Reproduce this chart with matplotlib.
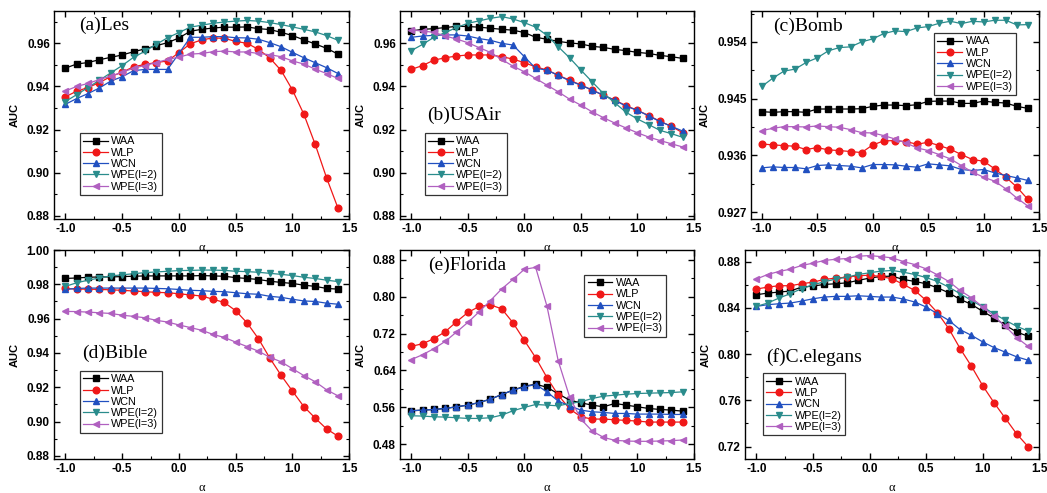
import numpy as np
import matplotlib
matplotlib.use("Agg")
import matplotlib.pyplot as plt
from matplotlib.ticker import MultipleLocator, AutoMinorLocator

alpha = np.round(np.arange(-1.0, 1.45, 0.1), 1)
names = ["WAA", "WLP", "WCN", "WPE(l=2)", "WPE(l=3)"]
colors = ["#000000", "#f01818", "#2150c0", "#2a8c8c", "#b060c0"]
markers = ["s", "o", "^", "v", "<"]

# (a) Les
les_waa = [0.9485, 0.9504, 0.9511, 0.9524, 0.9535, 0.9546, 0.9561, 0.9574, 0.9589, 0.9603, 0.9625, 0.9656, 0.9665,
           0.9671, 0.9675, 0.9675, 0.9676, 0.9668, 0.9664, 0.9651, 0.9636, 0.9616, 0.9597, 0.9577, 0.9550]
les_wlp = [0.9352, 0.9378, 0.9395, 0.9418, 0.9446, 0.9466, 0.9491, 0.9502, 0.9511, 0.9518, 0.9557, 0.9598, 0.9616,
           0.9625, 0.9623, 0.9609, 0.9600, 0.9572, 0.9532, 0.9474, 0.9383, 0.9271, 0.9131, 0.8976, 0.8836]
les_wcn = [0.9317, 0.9344, 0.9367, 0.9393, 0.9425, 0.9445, 0.9473, 0.9479, 0.9479, 0.9479, 0.9553, 0.9628, 0.9628,
           0.9631, 0.9631, 0.9626, 0.9625, 0.9619, 0.9603, 0.9584, 0.9558, 0.9533, 0.9510, 0.9487, 0.9460]
les_wpe2 = [0.9330, 0.9362, 0.9395, 0.9429, 0.9463, 0.9497, 0.9535, 0.9563, 0.9595, 0.9626, 0.9650, 0.9675, 0.9684,
            0.9693, 0.9699, 0.9703, 0.9706, 0.9703, 0.9696, 0.9687, 0.9676, 0.9665, 0.9653, 0.9636, 0.9614]
les_wpe3 = [0.9379, 0.9400, 0.9414, 0.9432, 0.9448, 0.9465, 0.9485, 0.9497, 0.9511, 0.9525, 0.9536, 0.9550, 0.9553,
            0.9561, 0.9564, 0.9560, 0.9560, 0.9553, 0.9547, 0.9538, 0.9518, 0.9504, 0.9480, 0.9460, 0.9437]

# (b) USAir
usa_waa = [0.9657, 0.9665, 0.9668, 0.9673, 0.9679, 0.9678, 0.9675, 0.9670, 0.9665, 0.9661, 0.9650, 0.9628, 0.9619,
           0.9609, 0.9602, 0.9597, 0.9586, 0.9581, 0.9572, 0.9566, 0.9558, 0.9553, 0.9544, 0.9538, 0.9530]
usa_wlp = [0.9479, 0.9497, 0.9522, 0.9533, 0.9541, 0.9546, 0.9546, 0.9546, 0.9538, 0.9527, 0.9510, 0.9491, 0.9476,
           0.9452, 0.9429, 0.9407, 0.9383, 0.9359, 0.9336, 0.9311, 0.9289, 0.9265, 0.9238, 0.9215, 0.9185]
usa_wcn = [0.9628, 0.9634, 0.9637, 0.9639, 0.9639, 0.9634, 0.9622, 0.9614, 0.9600, 0.9592, 0.9538, 0.9484, 0.9476,
           0.9451, 0.9426, 0.9406, 0.9383, 0.9359, 0.9336, 0.9308, 0.9289, 0.9263, 0.9237, 0.9215, 0.9193]
usa_wpe2 = [0.9566, 0.9595, 0.9628, 0.9650, 0.9673, 0.9693, 0.9704, 0.9716, 0.9724, 0.9713, 0.9696, 0.9675, 0.9637,
            0.9584, 0.9533, 0.9476, 0.9421, 0.9367, 0.9324, 0.9280, 0.9249, 0.9223, 0.9196, 0.9181, 0.9164]
usa_wpe3 = [0.9662, 0.9657, 0.9651, 0.9634, 0.9620, 0.9603, 0.9580, 0.9558, 0.9525, 0.9494, 0.9468, 0.9437, 0.9406,
            0.9375, 0.9341, 0.9313, 0.9282, 0.9255, 0.9230, 0.9207, 0.9185, 0.9165, 0.9149, 0.9134, 0.9119]

# (c) Bomb
bomb_waa = [0.94293, 0.94282, 0.94293, 0.94293, 0.94282, 0.94335, 0.94335, 0.94335, 0.94335, 0.94340, 0.94377, 0.94398,
            0.94398, 0.94388, 0.94403, 0.94456, 0.94461, 0.94461, 0.94424, 0.94424, 0.94461, 0.94440, 0.94430, 0.94377,
            0.94345]
bomb_wlp = [0.93781, 0.93765, 0.93755, 0.93744, 0.93692, 0.93723, 0.93686, 0.93676, 0.93660, 0.93644, 0.93765, 0.93829,
            0.93834, 0.93818, 0.93776, 0.93808, 0.93755, 0.93697, 0.93612, 0.93533, 0.93507, 0.93386, 0.93254, 0.93096,
            0.92900]
bomb_wcn = [0.93401, 0.93417, 0.93407, 0.93407, 0.93386, 0.93438, 0.93449, 0.93438, 0.93428, 0.93401, 0.93454, 0.93454,
            0.93449, 0.93428, 0.93412, 0.93465, 0.93449, 0.93433, 0.93375, 0.93359, 0.93375, 0.93322, 0.93280, 0.93243,
            0.93201]
bomb_wpe2 = [0.94693, 0.94825, 0.94936, 0.94968, 0.95073, 0.95147, 0.95258, 0.95310, 0.95321, 0.95400, 0.95447, 0.95532,
             0.95574, 0.95563, 0.95621, 0.95643, 0.95695, 0.95727, 0.95690, 0.95727, 0.95716, 0.95743, 0.95743, 0.95669,
             0.95674]
bomb_wpe3 = [0.93992, 0.94029, 0.94055, 0.94055, 0.94050, 0.94066, 0.94055, 0.94045, 0.94008, 0.93960, 0.93955, 0.93913,
             0.93860, 0.93797, 0.93718, 0.93676, 0.93612, 0.93544, 0.93438, 0.93333, 0.93254, 0.93190, 0.93069, 0.92922,
             0.92795]

# (d) Bible
bib_waa = [0.9834, 0.9837, 0.9841, 0.9843, 0.9843, 0.9845, 0.9847, 0.9849, 0.9849, 0.9849, 0.9849, 0.9849, 0.9851,
           0.9849, 0.9847, 0.9839, 0.9834, 0.9828, 0.9818, 0.9811, 0.9805, 0.9795, 0.9788, 0.9776, 0.9772]
bib_wlp = [0.9776, 0.9772, 0.9772, 0.9770, 0.9768, 0.9765, 0.9761, 0.9757, 0.9753, 0.9751, 0.9745, 0.9738, 0.9732,
           0.9713, 0.9694, 0.9646, 0.9575, 0.9483, 0.9370, 0.9269, 0.9177, 0.9087, 0.9020, 0.8957, 0.8915]
bib_wcn = [0.9770, 0.9776, 0.9778, 0.9778, 0.9778, 0.9778, 0.9778, 0.9778, 0.9776, 0.9774, 0.9770, 0.9765, 0.9763,
           0.9759, 0.9757, 0.9751, 0.9745, 0.9742, 0.9730, 0.9724, 0.9713, 0.9703, 0.9700, 0.9690, 0.9684]
bib_wpe2 = [0.9788, 0.9809, 0.9824, 0.9837, 0.9849, 0.9855, 0.9862, 0.9868, 0.9872, 0.9876, 0.9880, 0.9881, 0.9883,
            0.9883, 0.9881, 0.9876, 0.9874, 0.9870, 0.9864, 0.9858, 0.9851, 0.9841, 0.9834, 0.9824, 0.9816]
bib_wpe3 = [0.9642, 0.9641, 0.9638, 0.9634, 0.9630, 0.9620, 0.9613, 0.9605, 0.9590, 0.9580, 0.9563, 0.9548, 0.9532,
            0.9508, 0.9490, 0.9463, 0.9437, 0.9410, 0.9375, 0.9348, 0.9308, 0.9268, 0.9232, 0.9185, 0.9150]

# (e) Florida
flo_waa = [0.5527, 0.5541, 0.5555, 0.5577, 0.5613, 0.5649, 0.5706, 0.5778, 0.5879, 0.5973, 0.6059, 0.6102, 0.6037,
           0.5893, 0.5757, 0.5699, 0.5649, 0.5613, 0.5685, 0.5649, 0.5613, 0.5577, 0.5555, 0.5541, 0.5519]
flo_wlp = [0.6922, 0.6980, 0.7088, 0.7239, 0.7455, 0.7656, 0.7786, 0.7822, 0.7735, 0.7433, 0.7052, 0.6678, 0.6246,
           0.5865, 0.5570, 0.5397, 0.5347, 0.5347, 0.5332, 0.5318, 0.5304, 0.5282, 0.5282, 0.5282, 0.5282]
flo_wcn = [0.5527, 0.5541, 0.5555, 0.5577, 0.5613, 0.5649, 0.5706, 0.5778, 0.5879, 0.5973, 0.6045, 0.6095, 0.5937,
           0.5735, 0.5634, 0.5541, 0.5505, 0.5491, 0.5469, 0.5469, 0.5455, 0.5455, 0.5455, 0.5447, 0.5447]
flo_wpe2 = [0.5419, 0.5412, 0.5397, 0.5390, 0.5376, 0.5361, 0.5361, 0.5376, 0.5433, 0.5527, 0.5599, 0.5663, 0.5649,
            0.5634, 0.5685, 0.5721, 0.5793, 0.5843, 0.5865, 0.5886, 0.5901, 0.5908, 0.5915, 0.5922, 0.5937]
flo_wpe3 = [0.6635, 0.6742, 0.6872, 0.7030, 0.7232, 0.7440, 0.7670, 0.7915, 0.8167, 0.8375, 0.8591, 0.8634, 0.7793,
            0.6606, 0.5829, 0.5347, 0.5088, 0.4951, 0.4886, 0.4872, 0.4865, 0.4865, 0.4872, 0.4879, 0.4894]

# (f) C.elegans
cel_waa = [0.8513, 0.8527, 0.8536, 0.8545, 0.8579, 0.8588, 0.8602, 0.8608, 0.8616, 0.8637, 0.8657, 0.8671, 0.8674,
           0.8645, 0.8628, 0.8608, 0.8573, 0.8530, 0.8473, 0.8430, 0.8369, 0.8312, 0.8249, 0.8191, 0.8154]
cel_wlp = [0.8562, 0.8579, 0.8591, 0.8591, 0.8608, 0.8622, 0.8645, 0.8657, 0.8665, 0.8677, 0.8682, 0.8671, 0.8651,
           0.8602, 0.8550, 0.8464, 0.8358, 0.8220, 0.8048, 0.7895, 0.7726, 0.7579, 0.7444, 0.7309, 0.7200]
cel_wcn = [0.8412, 0.8427, 0.8435, 0.8441, 0.8458, 0.8478, 0.8493, 0.8499, 0.8499, 0.8504, 0.8499, 0.8493, 0.8493,
           0.8476, 0.8450, 0.8407, 0.8349, 0.8292, 0.8211, 0.8162, 0.8105, 0.8056, 0.8016, 0.7976, 0.7947]
cel_wpe2 = [0.8412, 0.8441, 0.8484, 0.8522, 0.8565, 0.8599, 0.8625, 0.8648, 0.8665, 0.8688, 0.8703, 0.8717, 0.8723,
            0.8708, 0.8688, 0.8662, 0.8628, 0.8579, 0.8522, 0.8464, 0.8407, 0.8349, 0.8292, 0.8240, 0.8200]
cel_wpe3 = [0.8648, 0.8688, 0.8714, 0.8734, 0.8766, 0.8786, 0.8809, 0.8820, 0.8826, 0.8846, 0.8852, 0.8843, 0.8832,
            0.8800, 0.8774, 0.8737, 0.8685, 0.8628, 0.8550, 0.8487, 0.8407, 0.8326, 0.8240, 0.8142, 0.8068]

# panel settings: data, title, title pos, ylim, ytick step, legend anchor (upper-left corner), axes rect
panels = [
    ([les_waa, les_wlp, les_wcn, les_wpe2, les_wpe3], "(a)Les", (0.085, 0.933), (0.8785, 0.975), 0.02,
     (0.088, 0.413), [0.0516, 0.5558, 0.2820, 0.4219]),
    ([usa_waa, usa_wlp, usa_wcn, usa_wpe2, usa_wpe3], "(b)USAir", (0.091, 0.50), (0.8785, 0.975), 0.02,
     (0.085, 0.413), [0.3820, 0.5558, 0.2808, 0.4219]),
    ([bomb_waa, bomb_wlp, bomb_wcn, bomb_wpe2, bomb_wpe3], "(c)Bomb", (0.077, 0.928), (0.9259, 0.9589), 0.009,
     (0.636, 0.893), [0.7170, 0.5558, 0.2754, 0.4219]),
    ([bib_waa, bib_wlp, bib_wcn, bib_wpe2, bib_wpe3], "(d)Bible", (0.094, 0.506), (0.878, 1.0), 0.02,
     (0.088, 0.422), [0.0516, 0.0684, 0.2820, 0.4245]),
    ([flo_waa, flo_wlp, flo_wcn, flo_wpe2, flo_wpe3], "(e)Florida", (0.096, 0.928), (0.4476, 0.901), 0.08,
     (0.627, 0.881), [0.3820, 0.0684, 0.2808, 0.4245]),
    ([cel_waa, cel_wlp, cel_wcn, cel_wpe2, cel_wpe3], "(f)C.elegans", (0.073, 0.49), (0.709, 0.890), 0.04,
     (0.062, 0.410), [0.7115, 0.0684, 0.2812, 0.4245]),
]

fig = plt.figure(figsize=(10.47, 4.93), dpi=100)

for series, title, tpos, ylim, ystep, lpos, rect in panels:
    ax = fig.add_axes(rect)
    for vals, name, c, m in zip(series, names, colors, markers):
        ax.plot(alpha, vals, color=c, marker=m, markersize=4.8, linewidth=0.9, label=name)
    ax.set_xlim(-1.1, 1.5)
    ax.set_ylim(*ylim)
    ax.xaxis.set_major_locator(MultipleLocator(0.5))
    ax.xaxis.set_minor_locator(AutoMinorLocator(2))
    ax.yaxis.set_major_locator(MultipleLocator(ystep))
    ax.yaxis.set_minor_locator(AutoMinorLocator(2))
    ax.xaxis.set_major_formatter(plt.FormatStrFormatter("%.1f"))
    if ystep == 0.009:
        ax.yaxis.set_major_formatter(plt.FormatStrFormatter("%.3f"))
    else:
        ax.yaxis.set_major_formatter(plt.FormatStrFormatter("%.2f"))
    ax.tick_params(which="both", direction="in", top=True, right=True)
    ax.tick_params(which="major", length=4, width=1, labelsize=8.5, pad=3)
    ax.tick_params(which="minor", length=2, width=0.8)
    for lab in ax.get_xticklabels() + ax.get_yticklabels():
        lab.set_fontfamily("Liberation Sans")
        lab.set_fontweight("bold")
    for sp in ax.spines.values():
        sp.set_linewidth(1.0)
    ax.set_ylabel("AUC", fontfamily="Liberation Sans", fontweight="bold", fontsize=8, labelpad=5)
    ax.set_xlabel("α", fontfamily="Liberation Serif", fontsize=9, labelpad=5)
    ax.text(tpos[0], tpos[1], title, transform=ax.transAxes, ha="left", va="center",
            fontfamily="Liberation Serif", fontsize=14)
    leg = ax.legend(loc="upper left", bbox_to_anchor=lpos, fontsize=7.8, frameon=True, fancybox=False,
                    edgecolor="black", handlelength=2.3, handletextpad=0.3, labelspacing=0.12,
                    borderpad=0.3, borderaxespad=0)
    leg.get_frame().set_linewidth(0.9)
    for t in leg.get_texts():
        t.set_fontfamily("Liberation Sans")

fig.savefig("out.png", dpi=100)
